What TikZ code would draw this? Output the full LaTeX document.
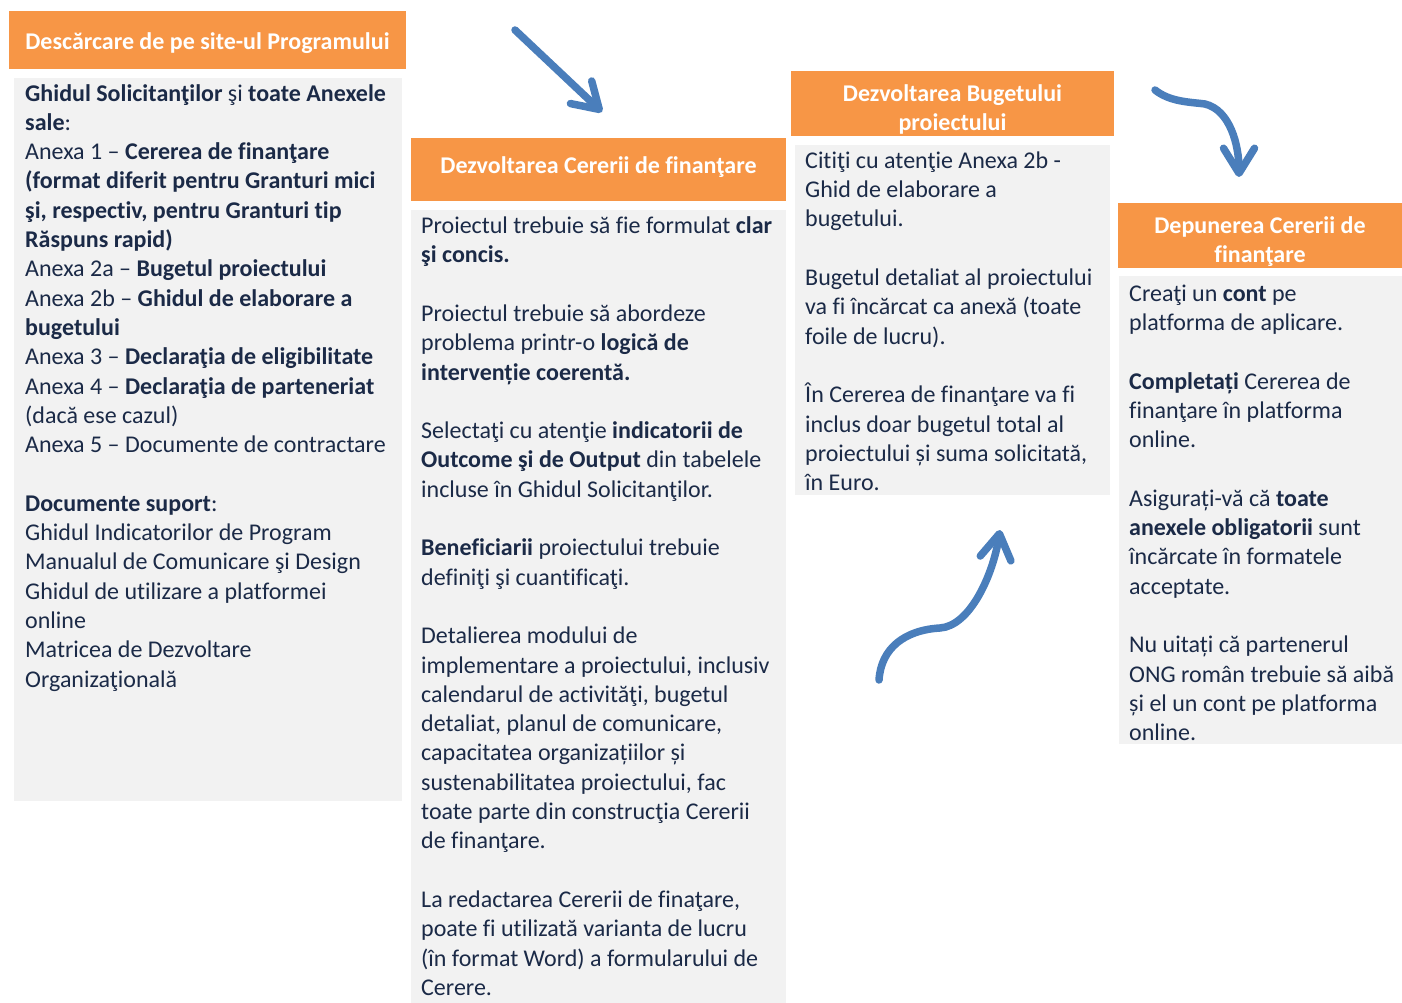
\documentclass[tikz,border=0pt]{standalone}
\usepackage{fontspec}
\setmainfont{Carlito}[Ligatures=CommonOff]
\usetikzlibrary{arrows.meta}
\definecolor{hdrorange}{HTML}{F79646}
\definecolor{boxgray}{HTML}{F2F2F2}
\definecolor{navytext}{HTML}{1B2A47}
\definecolor{arrowblue}{HTML}{4A7EBB}
\tikzset{
  headtxt/.style={text=white, font=\bfseries\fontsize{24}{29.3}\selectfont,
    align=center, inner sep=0pt},
  bodytxt/.style={anchor=north west, align=left, inner sep=0pt, text=navytext,
    font=\fontsize{24}{29.3}\selectfont},
  flowarrow/.style={draw=arrowblue, line width=7.5pt, line cap=round,
    -{Straight Barb[length=25pt, width=31pt, round]}}
}
\begin{document}
\begin{tikzpicture}[x=1pt,y=-1pt]
\useasboundingbox (0,0) rectangle (1402,1003);

% headers
\fill[hdrorange] (9,11) rectangle (406,69);
\fill[hdrorange] (411,138) rectangle (786,201);
\fill[hdrorange] (791,71) rectangle (1114,136);
\fill[hdrorange] (1118,203) rectangle (1402,268);
% bodies
\fill[boxgray] (14,78) rectangle (402,801);
\fill[boxgray] (411,210) rectangle (786,1003);
\fill[boxgray] (795,145) rectangle (1110,495);
\fill[boxgray] (1119,276) rectangle (1402,744);

\node[headtxt] (h1) at (207.5,43) {Descărcare de pe site-ul Programului};
\node[headtxt] (h2) at (598.5,167.5) {Dezvoltarea Cererii de finanţare};
\node[headtxt] (h3) at (952.5,109.5) {Dezvoltarea Bugetului\\proiectului};
\node[headtxt] (h4) at (1260,241.5) {Depunerea Cererii de\\finanţare};

\node[bodytxt] (t1) at (25,84) {\textbf{Ghidul Solicitanţilor} şi \textbf{toate Anexele}\\
\textbf{sale}:\\
Anexa 1 – \textbf{Cererea de finanţare}\\
\textbf{(format diferit pentru Granturi mici}\\
\textbf{şi, respectiv, pentru Granturi tip}\\
\textbf{Răspuns rapid)}\\
Anexa 2a – \textbf{Bugetul proiectului}\\
Anexa 2b – \textbf{Ghidul de elaborare a}\\
\textbf{bugetului}\\
Anexa 3 – \textbf{Declaraţia de eligibilitate}\\
Anexa 4 – \textbf{Declaraţia de parteneriat}\\
(dacă ese cazul)\\
Anexa 5 – Documente de contractare\\[29.3pt]
\textbf{Documente suport}:\\
Ghidul Indicatorilor de Program\\
Manualul de Comunicare şi Design\\
Ghidul de utilizare a platformei\\
online\\
Matricea de Dezvoltare\\
Organizaţională};

\node[bodytxt] (t2) at (421,216.5) {Proiectul trebuie să fie formulat \textbf{clar}\\
\textbf{şi concis.}\\[29.3pt]
Proiectul trebuie să abordeze\\
problema printr-o \textbf{logică de}\\
\textbf{intervenție coerentă.}\\[29.3pt]
Selectaţi cu atenţie \textbf{indicatorii de}\\
\textbf{Outcome şi de Output} din tabelele\\
incluse în Ghidul Solicitanţilor.\\[29.3pt]
\textbf{Beneficiarii} proiectului trebuie\\
definiţi şi cuantificaţi.\\[29.3pt]
Detalierea modului de\\
implementare a proiectului, inclusiv\\
calendarul de activităţi, bugetul\\
detaliat, planul de comunicare,\\
capacitatea organizațiilor și\\
sustenabilitatea proiectului, fac\\
toate parte din construcţia Cererii\\
de finanţare.\\[29.3pt]
La redactarea Cererii de finaţare,\\
poate fi utilizată varianta de lucru\\
(în format Word) a formularului de\\
Cerere.};

\node[bodytxt] (t3) at (805,151.5) {Citiţi cu atenţie Anexa 2b -\\
Ghid de elaborare a\\
bugetului.\\[29.3pt]
Bugetul detaliat al proiectului\\
va fi încărcat ca anexă (toate\\
foile de lucru).\\[29.3pt]
În Cererea de finanţare va fi\\
inclus doar bugetul total al\\
proiectului și suma solicitată,\\
în Euro.};

\node[bodytxt] (t4) at (1129,284.5) {Creaţi un \textbf{cont} pe\\
platforma de aplicare.\\[29.3pt]
\textbf{Completați} Cererea de\\
finanţare în platforma\\
online.\\[29.3pt]
Asigurați-vă că \textbf{toate}\\
\textbf{anexele obligatorii} sunt\\
încărcate în formatele\\
acceptate.\\[29.3pt]
Nu uitați că partenerul\\
ONG român trebuie să aibă\\
și el un cont pe platforma\\
online.};

\coordinate (a1s) at (515,30);
\coordinate (a1e) at (602,112);
\coordinate (a2s) at (879,680);
\coordinate (a2m) at (940,628);
\coordinate (a2e) at (1000,530);
\coordinate (a3s) at (1155,90);
\coordinate (a3m) at (1205,104);
\coordinate (a3e) at (1239,177);

\draw[flowarrow] (a1s) -- (a1e);
\draw[flowarrow] (a2s) .. controls (881,648) and (905,630) .. (a2m)
  .. controls (970,626) and (993,575) .. (a2e);
\draw[flowarrow] (a3s) .. controls (1170,102) and (1190,102) .. (a3m)
  .. controls (1230,110) and (1239,145) .. (a3e);
\end{tikzpicture}
\end{document}
